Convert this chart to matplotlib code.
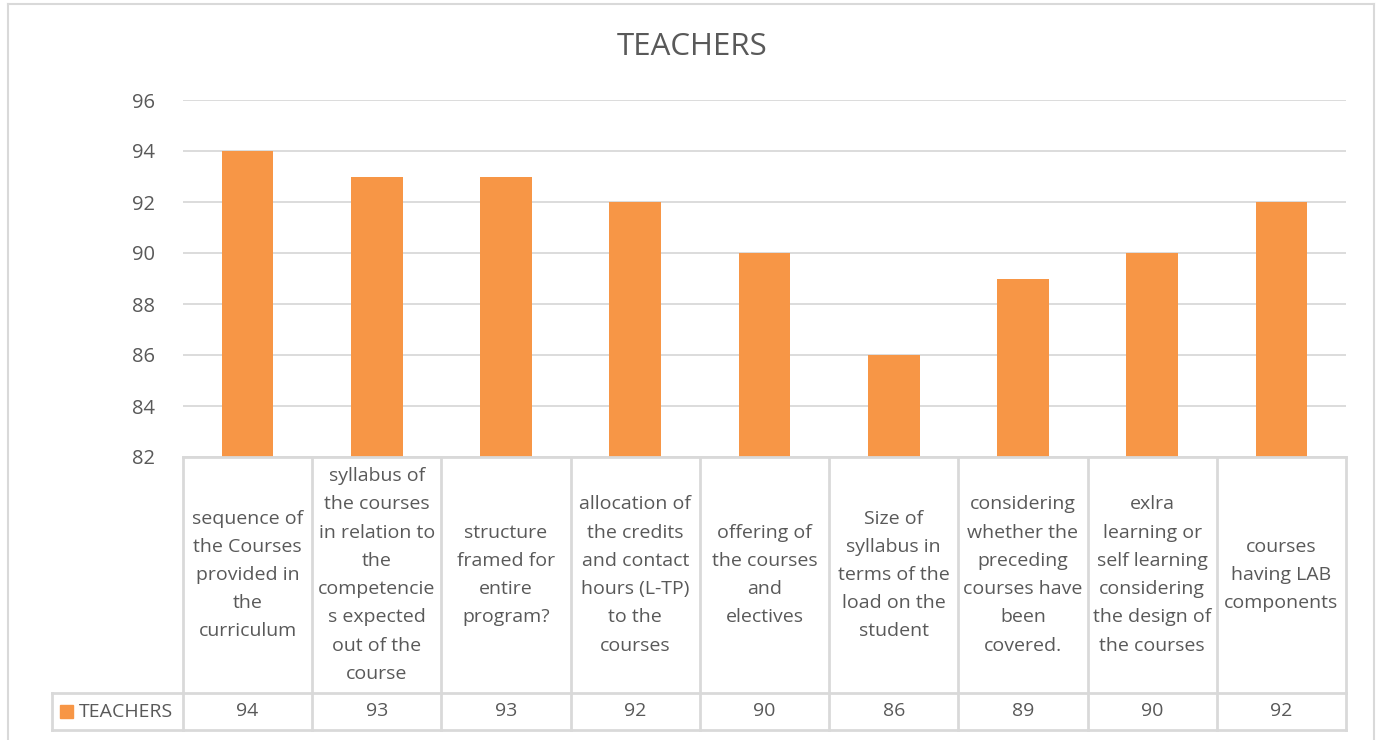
import numpy as np
import matplotlib.pyplot as plt
import matplotlib.transforms as mtransforms
from matplotlib.lines import Line2D
from matplotlib.patches import Rectangle

plt.rcParams['font.family'] = ['Open Sans', 'DejaVu Sans']

categories = [
    'sequence of\nthe Courses\nprovided in\nthe\ncurriculum',
    'syllabus of\nthe courses\nin relation to\nthe\ncompetencie\ns expected\nout of the\ncourse',
    'structure\nframed for\nentire\nprogram?',
    'allocation of\nthe credits\nand contact\nhours (L-TP)\nto the\ncourses',
    'offering of\nthe courses\nand\nelectives',
    'Size of\nsyllabus in\nterms of the\nload on the\nstudent',
    'considering\nwhether the\npreceding\ncourses have\nbeen\ncovered.',
    'exlra\nlearning or\nself learning\nconsidering\nthe design of\nthe courses',
    'courses\nhaving LAB\ncomponents',
]
teachers = [94, 93, 93, 92, 90, 86, 89, 90, 92]
series_name = 'TEACHERS'
yticks = [82, 84, 86, 88, 90, 92, 94, 96]

orange = '#F79646'
txt = '#595959'
grid = '#D9D9D9'

W, H = 1376, 740
fig = plt.figure(figsize=(W / 100, H / 100), dpi=100)
ax = fig.add_axes([183 / W, 1 - 457 / H, (1346 - 183) / W, (457 - 100) / H])

x = np.arange(len(teachers))
ax.bar(x, [v - 82 for v in teachers], bottom=82, width=0.4, color=orange, zorder=2)
ax.set_xlim(-0.5, len(teachers) - 0.5)
ax.set_ylim(82, 96)
ax.set_yticks(yticks)
ax.set_yticklabels([str(t) for t in yticks], fontsize=14.5, color=txt)
ax.tick_params(axis='y', length=0, pad=20)
ax.set_xticks([])
ax.grid(axis='y', color=grid, lw=1.3, zorder=0)
for s in ax.spines.values():
    s.set_visible(False)

fig.text(692 / W, 1 - 47 / H, series_name, ha='center', va='center', fontsize=22.5, color=txt)

# data table below the axes
tr = mtransforms.blended_transform_factory(ax.transData, ax.transAxes)
y_mid = (457 - 693) / 357
y_bot = (457 - 730) / 357
line_kw = dict(color=grid, lw=2, clip_on=False)

for i in range(len(teachers) + 1):
    ax.add_line(Line2D([i - 0.5, i - 0.5], [0, y_bot], transform=tr, **line_kw))
for yy in [0, y_mid, y_bot]:
    ax.add_line(Line2D([-0.5, len(teachers) - 0.5], [yy, yy], transform=tr, **line_kw))

# legend cell
for (x0, y0, x1, y1) in [(52, 693, 183, 693), (52, 730, 183, 730), (52, 693, 52, 730)]:
    fig.add_artist(Line2D([x0 / W, x1 / W], [1 - y0 / H, 1 - y1 / H], color=grid, lw=2))
fig.add_artist(Rectangle((60 / W, 1 - 718 / H), 13 / W, 13 / H, color=orange))
fig.text(79 / W, 1 - 712 / H, series_name, ha='left', va='center', fontsize=14, color=txt)

for i, (c, v) in enumerate(zip(categories, teachers)):
    ax.text(i, (0 + y_mid) / 2, c, transform=tr, ha='center', va='center',
            fontsize=14, color=txt, linespacing=1.73, clip_on=False)
    ax.text(i, (y_mid + y_bot) / 2, str(v), transform=tr, ha='center', va='center',
            fontsize=14, color=txt, clip_on=False)

# chart border
for (x0, y0, x1, y1) in [(8, 4, 1374, 4), (8, 4, 8, 740), (1374, 4, 1374, 740)]:
    fig.add_artist(Line2D([x0 / W, x1 / W], [1 - y0 / H, 1 - y1 / H], color=grid, lw=1.5))

fig.savefig('out.png', dpi=100, facecolor='white')
